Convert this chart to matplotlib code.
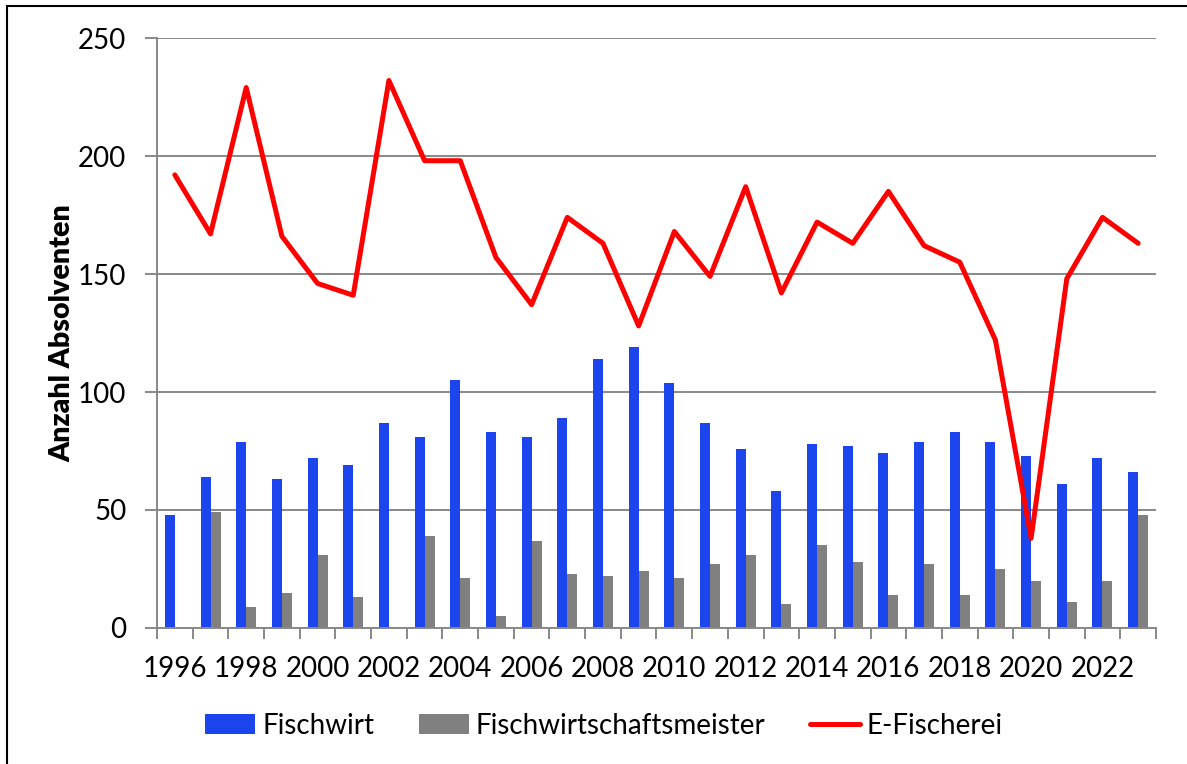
import matplotlib.pyplot as plt
import matplotlib.patches as mpatches
import numpy as np

years = list(range(1996, 2024))
fischwirt = [48, 64, 79, 63, 72, 69, 87, 81, 105, 83, 81, 89, 114, 119, 104, 87, 76, 58,
             78, 77, 74, 79, 83, 79, 73, 61, 72, 66]
meister = [0, 49, 9, 15, 31, 13, 0, 39, 21, 5, 37, 23, 22, 24, 21, 27, 31, 10,
           35, 28, 14, 27, 14, 25, 20, 11, 20, 48]
e_fischerei = [192, 167, 229, 166, 146, 141, 232, 198, 198, 157, 137, 174, 163, 128, 168, 149, 187, 142,
               172, 163, 185, 162, 155, 122, 38, 148, 174, 163]

plt.rcParams['font.family'] = ['Lato', 'DejaVu Sans']
fs = 20

fig = plt.figure(figsize=(11.87, 7.64), dpi=100)
ax = fig.add_axes([157 / 1187, 1 - 628 / 764, (1156 - 157) / 1187, (628 - 38) / 764])

x = np.arange(len(years))
bw = 0.28
b1 = ax.bar(x - bw / 2, fischwirt, width=bw, color='#1C45EE', label='Fischwirt', zorder=2)
b2 = ax.bar(x + bw / 2, meister, width=bw, color='#808080', label='Fischwirtschaftsmeister', zorder=2)
l1, = ax.plot(x, e_fischerei, color='#FF0000', linewidth=3.6, solid_joinstyle='round',
              solid_capstyle='round', label='E-Fischerei', zorder=3)

ax.set_xlim(-0.5, len(years) - 0.5)
ax.set_ylim(0, 250)
ax.set_yticks([0, 50, 100, 150, 200, 250])
ax.yaxis.grid(True, color='#888888', linewidth=1.4, zorder=0)
ax.set_axisbelow(True)

# major ticks on category boundaries, labels on every second year
ax.set_xticks(np.arange(-0.5, len(years), 1.0))
ax.set_xticklabels([])
ax.set_xticks(x[::2], minor=True)
ax.set_xticklabels([str(y) for y in years[::2]], minor=True, fontsize=fs)
ax.tick_params(axis='x', which='major', length=8, width=1.4, color='#888888', direction='out')
ax.tick_params(axis='x', which='minor', length=0, pad=20)
ax.tick_params(axis='y', length=9, width=1.4, color='#888888', labelsize=fs, pad=13)

for s in ['top', 'right']:
    ax.spines[s].set_visible(False)
for s in ['left', 'bottom']:
    ax.spines[s].set_color('#888888')
    ax.spines[s].set_linewidth(1.4)

ax.set_ylabel('Anzahl Absolventen', fontsize=20.5, fontweight='heavy')
ax.yaxis.set_label_coords(-0.082, 0.5)

fig.legend([b1, b2, l1], ['Fischwirt', 'Fischwirtschaftsmeister', 'E-Fischerei'],
           loc='center', bbox_to_anchor=(604 / 1187, 1 - 726 / 764), ncol=3, frameon=False,
           fontsize=fs, handlelength=1.8, handleheight=0.75, handletextpad=0.25,
           columnspacing=1.6)

# outer frame (cut at right/bottom like the reference)
fig.patches.append(mpatches.Rectangle((7 / 1187, -0.1), 1.2, 1 - 6 / 764 + 0.1,
                                      transform=fig.transFigure, fill=False,
                                      edgecolor='black', linewidth=1.5))

fig.savefig('out.png', dpi=100)
